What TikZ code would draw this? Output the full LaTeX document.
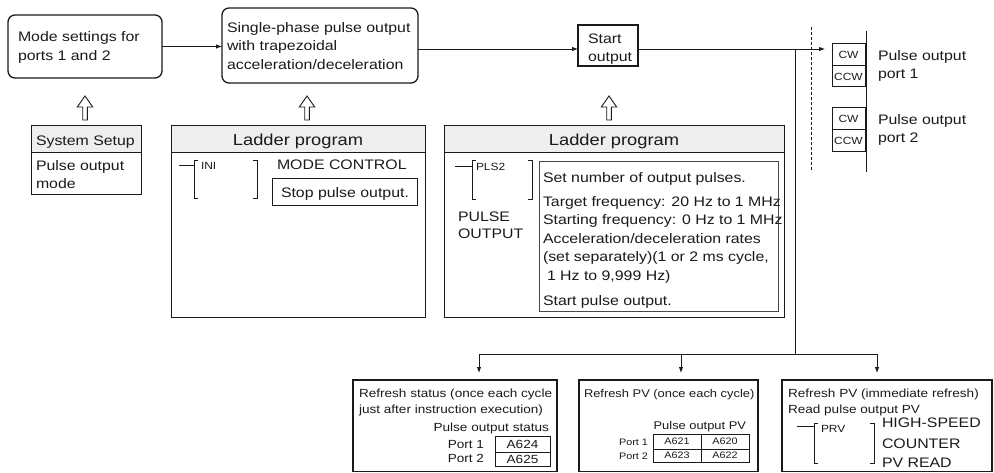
\documentclass[tikz,border=0pt]{standalone}
\usepackage{fontspec}
\setmainfont{Liberation Sans}[FakeStretch=1.15]
\usetikzlibrary{arrows.meta}
\definecolor{ink}{HTML}{1A1A1A}
\definecolor{hdr}{HTML}{EEEEEE}
\begin{document}
\begin{tikzpicture}[x=1pt,y=-1pt,
  every node/.style={inner sep=0pt, outer sep=0pt},
  frame/.style={draw=ink, line width=1pt, anchor=north west},
  rbox/.style={draw=ink, line width=1.3pt, rounded corners=7pt, anchor=north west},
  bbox/.style={draw=ink, line width=1.6pt, anchor=north west},
  conn/.style={draw=ink, line width=0.9pt},
  thin/.style={draw=ink, line width=0.8pt},
  arr/.style={conn, -{Latex[length=6pt,width=4.5pt]}},
  txt/.style={anchor=base west, text=ink, font=\fontsize{13.8}{16}\selectfont},
  hdrtxt/.style={anchor=base, text=ink, font=\fontsize{15.9}{18}\selectfont},
  smtxt/.style={text=ink, font=\fontsize{10.4}{12}\selectfont},
  bttxt/.style={anchor=base west, text=ink, font=\fontsize{11.8}{14}\selectfont},
  mdtxt/.style={anchor=base west, text=ink, font=\fontsize{11.2}{13}\selectfont},
  tinytxt/.style={text=ink, font=\fontsize{9.4}{11}\selectfont},
  pics/uparrow/.style={code={
    \draw[conn, fill=white, line join=miter] (0,0) -- (7.7,11) -- (2.3,11) -- (2.3,24)
      -- (-2.3,24) -- (-2.3,11) -- (-7.7,11) -- cycle;}}
]
\useasboundingbox (0,0) rectangle (994,473);

% ---------- top row ----------
\node[rbox, minimum width=154pt, minimum height=63pt] (b1) at (8,15) {};
\node[txt] (b1a) at (18,42) {Mode settings for};
\node[txt] (b1b) at (18,61) {ports 1 and 2};

\node[rbox, minimum width=196pt, minimum height=75pt] (b2) at (222,8) {};
\node[txt] (b2a) at (227,32.5) {Single-phase pulse output};
\node[txt] (b2b) at (227,51) {with trapezoidal};
\node[txt] (b2c) at (227,69.5) {acceleration/deceleration};

\node[draw=ink, line width=1.3pt, anchor=north west, minimum width=60pt, minimum height=41pt] (st) at (578,25) {};
\node[txt] (sta) at (588,43.5) {Start};
\node[txt] (stb) at (588,61.5) {output};

\coordinate (ay) at (0,49);
\coordinate (tipcw) at (825,49);
\draw[arr] (b1.east) -- (b1.east -| b2.west);
\draw[arr] (b2.east |- ay) -- (st.west |- ay);
\draw[arr] (st.east |- ay) -- (tipcw);

% ---------- output ports ----------
\draw[thin, dash pattern=on 3pt off 2pt] (811,27) -- (811,172);
\draw[conn, line width=1pt] (866,31) -- (866,172);
\node[frame, minimum width=33pt, minimum height=22pt] (cw1) at (832,44) {};
\node[frame, minimum width=33pt, minimum height=21pt] (ccw1) at (832,66) {};
\node[frame, minimum width=33pt, minimum height=22pt] (cw2) at (832,108) {};
\node[frame, minimum width=33pt, minimum height=22pt] (ccw2) at (832,130) {};
\node[smtxt] (cw1t) at (cw1) {CW};
\node[smtxt] (ccw1t) at (ccw1) {CCW};
\node[smtxt] (cw2t) at (cw2) {CW};
\node[smtxt] (ccw2t) at (ccw2) {CCW};
\node[txt] (p1a) at (878,61) {Pulse output};
\node[txt] (p1b) at (878,79) {port 1};
\node[txt] (p2a) at (878,125) {Pulse output};
\node[txt] (p2b) at (878,143) {port 2};

% ---------- hollow arrows ----------
\pic at (85,96) {uparrow};
\pic at (307,96) {uparrow};
\pic at (609,96) {uparrow};

% ---------- System Setup ----------
\node[frame, fill=hdr, minimum width=110pt, minimum height=27pt] (ssh) at (31,126) {};
\node[frame, minimum width=110pt, minimum height=42pt] (ssb) at (ssh.south west) {};
\node[txt] (ssht) at (36,145.5) {System Setup};
\node[txt] (ssb1) at (36,171) {Pulse output};
\node[txt] (ssb2) at (36,189) {mode};

% ---------- Ladder program 1 ----------
\node[frame, fill=hdr, minimum width=254pt, minimum height=27pt] (l1h) at (171,126) {};
\node[frame, minimum width=254pt, minimum height=165pt] (l1b) at (l1h.south west) {};
\node[hdrtxt] (l1t) at (298,145.5) {Ladder program};
\draw[thin] (179,165) -- (194,165);
\draw[thin] (198,160) -- (194,160) -- (194,198) -- (198,198);
\draw[thin] (253,160) -- (257,160) -- (257,198) -- (253,198);
\node[smtxt, anchor=base west] (ini) at (201,170) {INI};
\node[txt] (mc) at (277,170) {MODE CONTROL};
\node[frame, minimum width=145pt, minimum height=27pt] (stop) at (272,179) {};
\node[txt] (stopt) at (281,198) {Stop pulse output.};

% ---------- Ladder program 2 ----------
\node[frame, fill=hdr, minimum width=340pt, minimum height=27pt] (l2h) at (444,126) {};
\node[frame, minimum width=340pt, minimum height=165pt] (l2b) at (l2h.south west) {};
\node[hdrtxt] (l2t) at (614,145.5) {Ladder program};
\draw[thin] (455,166) -- (472,166);
\draw[thin] (476,160) -- (472,160) -- (472,199) -- (476,199);
\draw[thin] (528,160) -- (532,160) -- (532,199) -- (528,199);
\node[smtxt, anchor=base west] (pls) at (476,171) {PLS2};
\node[txt] (po1) at (458,222) {PULSE};
\node[txt] (po2) at (458,239) {OUTPUT};
\node[frame, draw=ink!80, minimum width=239pt, minimum height=150pt] (in2) at (539,162) {};
\node[txt] (i1) at (543,183) {Set number of output pulses.};
\node[txt] (i2) at (543,206.5) {Target frequency: 20 Hz to 1 MHz};
\node[txt] (i3) at (543,225) {Starting frequency: 0 Hz to 1 MHz};
\node[txt] (i4) at (543,243.3) {Acceleration/deceleration rates};
\node[txt] (i5) at (543,261.5) {(set separately)(1 or 2 ms cycle,};
\node[txt] (i6) at (547,280.5) {1 Hz to 9,999 Hz)};
\node[txt] (i7) at (543,305.5) {Start pulse output.};

% ---------- bus to bottom boxes ----------
\node[bbox, minimum width=204pt, minimum height=91.5pt] (r1) at (353,380) {};
\node[bbox, minimum width=179pt, minimum height=91.5pt] (r2) at (579,380) {};
\node[bbox, minimum width=210pt, minimum height=91.5pt] (r3) at (782,380) {};

\coordinate (j) at (795,49);
\coordinate (bus) at (795,354);
\coordinate (bl) at (479,354);
\coordinate (bm) at (681,354);
\coordinate (br) at (877,354);
\draw[conn] (j) -- (bus);
\draw[conn] (bl) -- (br);
\draw[arr, shorten >=7pt] (bl) -- (bl |- r1.north);
\draw[arr, shorten >=7pt] (bm) -- (bm |- r2.north);
\draw[arr, shorten >=7pt] (br) -- (br |- r3.north);

% box r1
\node[bttxt] (r1a) at (359,397) {Refresh status (once each cycle};
\node[bttxt] (r1b) at (359,413) {just after instruction execution)};
\node[bttxt, anchor=base east] (r1c) at (549,431) {Pulse output status};
\node[bttxt, anchor=base east] (r1d) at (484,448) {Port 1};
\node[bttxt, anchor=base east] (r1e) at (484,462.5) {Port 2};
\node[frame, minimum width=55pt, minimum height=16pt] (t1a) at (495,436) {};
\node[frame, minimum width=55pt, minimum height=14pt] (t1b) at (495,452) {};
\node[bttxt, anchor=center] (t1at) at (t1a) {A624};
\node[bttxt, anchor=center] (t1bt) at (t1b) {A625};

% box r2
\node[mdtxt] (r2a) at (584,397) {Refresh PV (once each cycle)};
\node[mdtxt, anchor=base east] (r2b) at (746,429) {Pulse output PV};
\node[frame, minimum width=48pt, minimum height=15pt] (t2a) at (653,434) {};
\node[frame, minimum width=48pt, minimum height=15pt] (t2b) at (701,434) {};
\node[frame, minimum width=48pt, minimum height=13pt] (t2c) at (653,449) {};
\node[frame, minimum width=48pt, minimum height=13pt] (t2d) at (701,449) {};
\node[tinytxt] (t2at) at (t2a) {A621};
\node[tinytxt] (t2bt) at (t2b) {A620};
\node[tinytxt] (t2ct) at (t2c) {A623};
\node[tinytxt] (t2dt) at (t2d) {A622};
\node[tinytxt, anchor=east] (r2p1) at (648,442.5) {Port 1};
\node[tinytxt, anchor=east] (r2p2) at (648,456.5) {Port 2};

% box r3
\node[bttxt] (r3a) at (788,397) {Refresh PV (immediate refresh)};
\node[bttxt] (r3b) at (788,413) {Read pulse output PV};
\draw[thin] (797,426) -- (814,426);
\draw[thin] (818,423) -- (814,423) -- (814,463) -- (818,463);
\draw[thin] (870,423) -- (874,423) -- (874,463) -- (870,463);
\node[smtxt, anchor=base west] (prv) at (821,432) {PRV};
\node[txt] (hs1) at (882,427) {HIGH-SPEED};
\node[txt] (hs2) at (882,448) {COUNTER};
\node[txt] (hs3) at (882,467) {PV READ};
\end{tikzpicture}
\end{document}
